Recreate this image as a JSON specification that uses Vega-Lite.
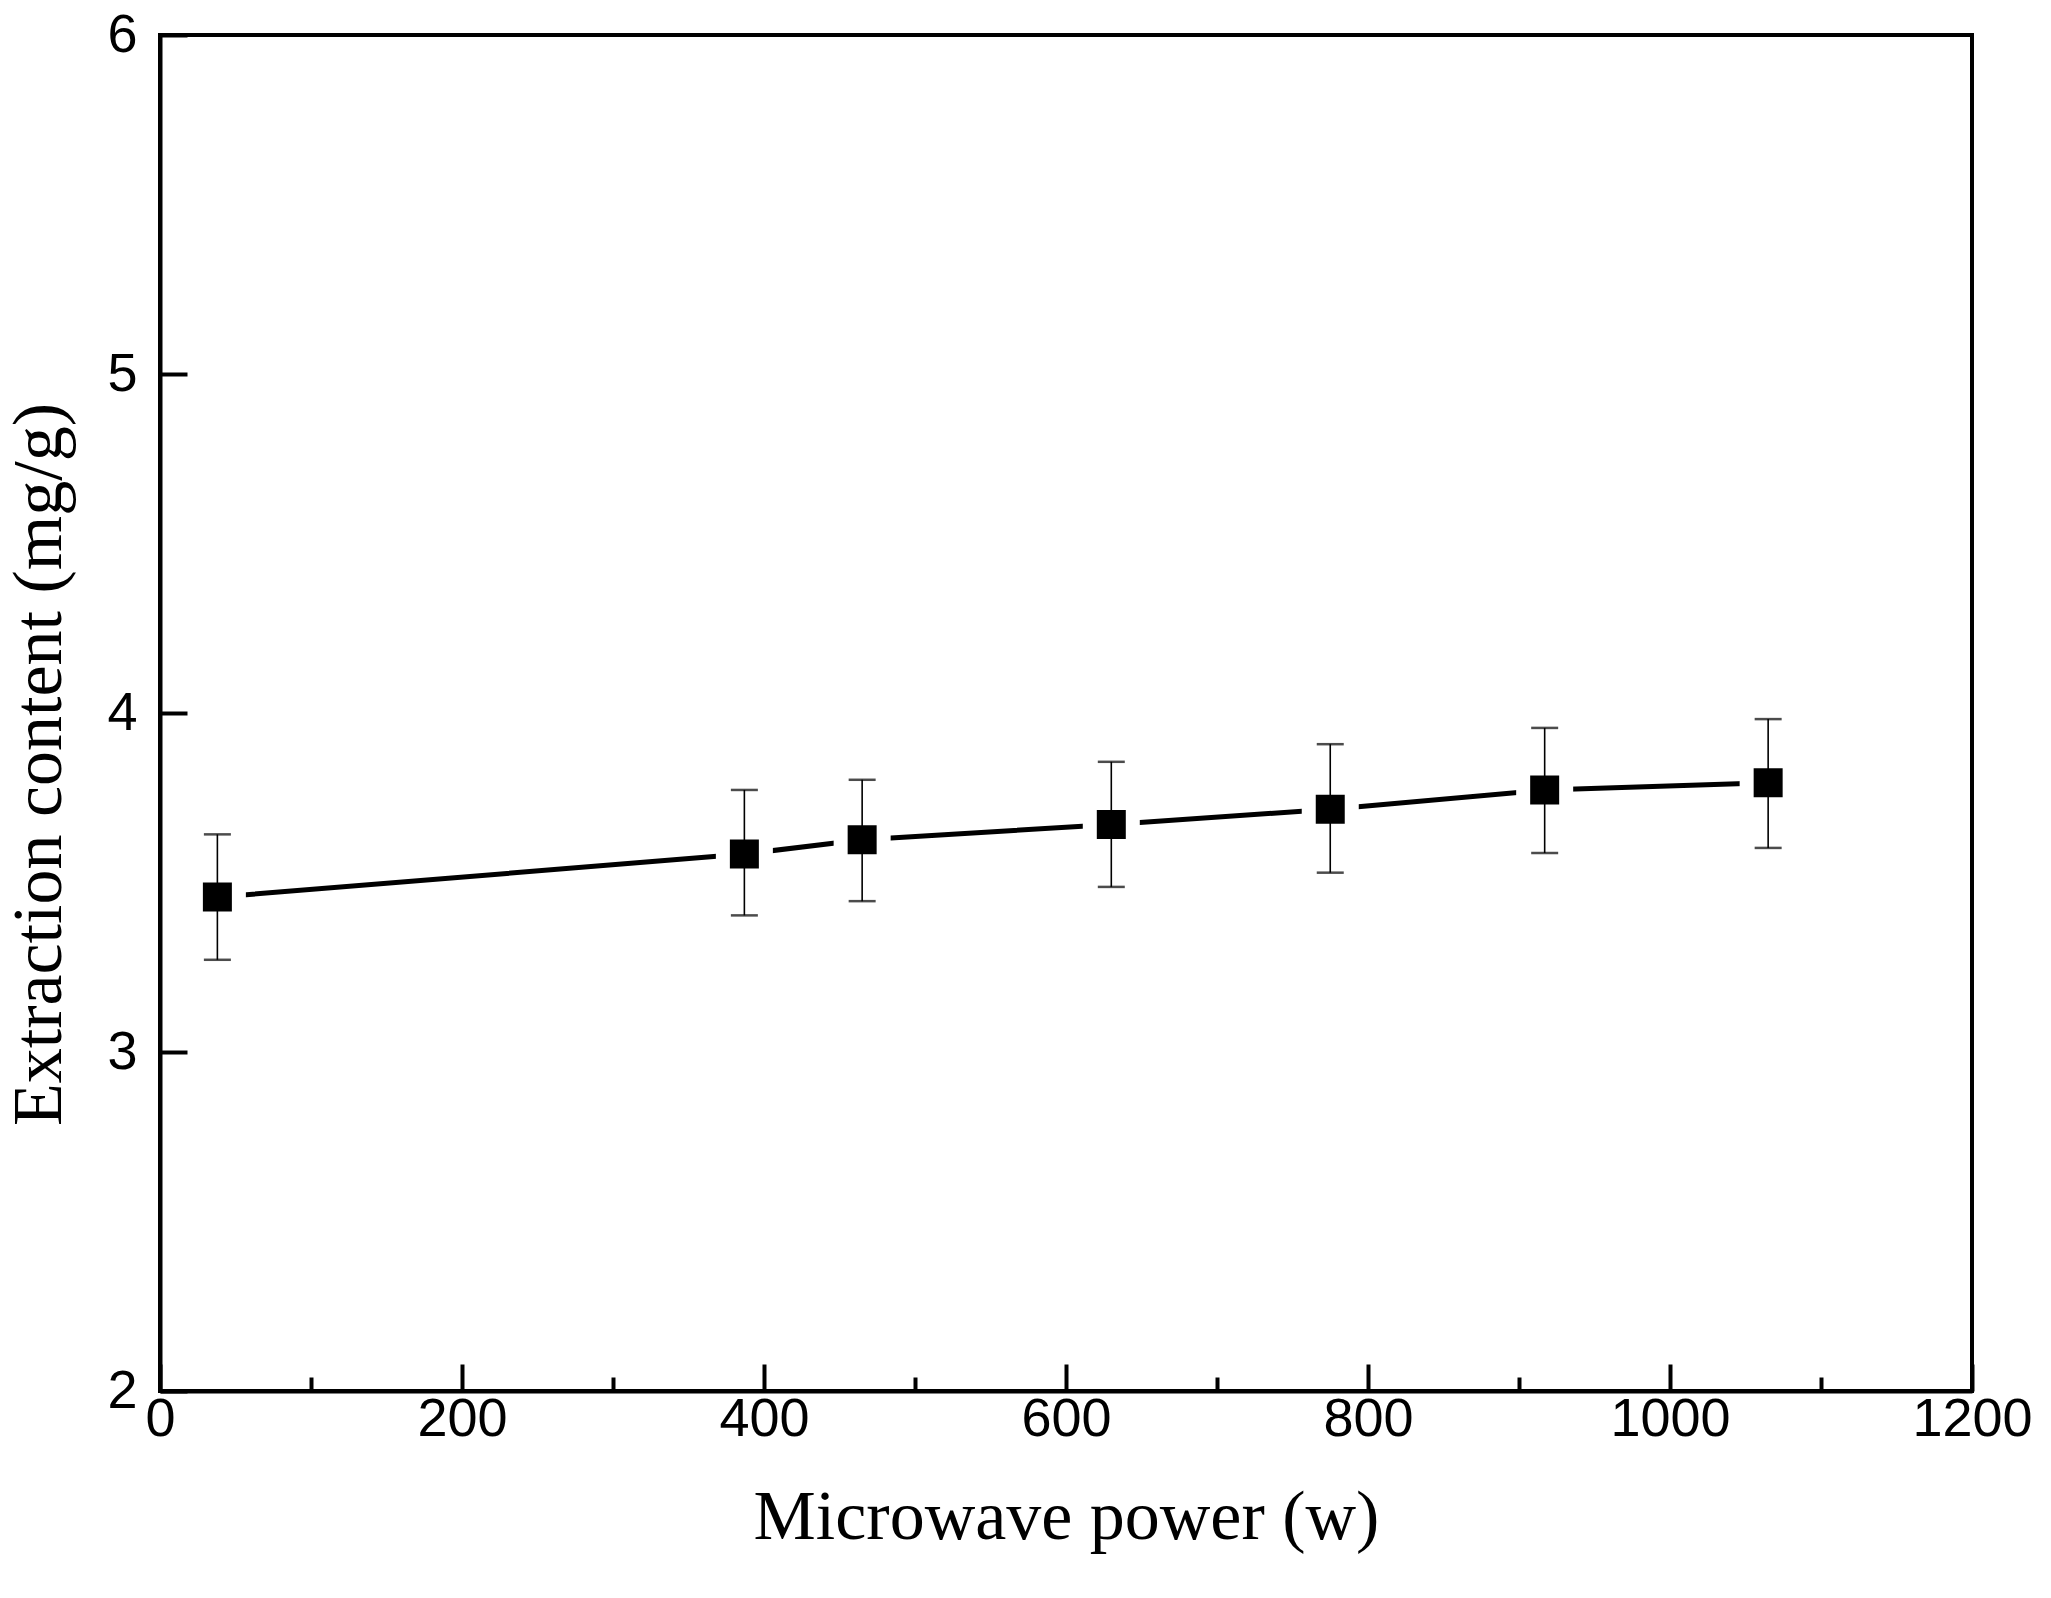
{
  "$schema": "https://vega.github.io/schema/vega-lite/v6.json",
  "width": 1812,
  "height": 1356,
  "autosize": {"type": "none"},
  "padding": {"left": 160, "top": 35, "right": 79, "bottom": 207},
  "background": "white",
  "data": {
    "values": [
      {"power": 38, "content": 3.457, "lo": 3.272, "hi": 3.642},
      {"power": 387, "content": 3.584, "lo": 3.403, "hi": 3.773},
      {"power": 465, "content": 3.626, "lo": 3.445, "hi": 3.803},
      {"power": 630, "content": 3.671, "lo": 3.487, "hi": 3.856},
      {"power": 775, "content": 3.716, "lo": 3.529, "hi": 3.908},
      {"power": 917, "content": 3.773, "lo": 3.587, "hi": 3.956},
      {"power": 1065, "content": 3.794, "lo": 3.602, "hi": 3.982}
    ]
  },
  "encoding": {
    "x": {
      "field": "power",
      "type": "quantitative",
      "title": "Microwave power (w)",
      "scale": {"domain": [0, 1200], "nice": false, "zero": false},
      "axis": {
        "values": [0, 100, 200, 300, 400, 500, 600, 700, 800, 900, 1000, 1100, 1200],
        "format": "d",
        "labelExpr": "datum.value % 200 === 0 ? datum.label : ''",
        "tickSize": {"condition": {"test": "datum.value % 200 === 0", "value": -27}, "value": -14},
        "labelPadding": 28,
        "titleY": 147,
        "titleBaseline": "alphabetic"
      }
    },
    "y": {
      "field": "content",
      "type": "quantitative",
      "title": "Extraction content (mg/g)",
      "scale": {"domain": [2, 6], "nice": false, "zero": false},
      "axis": {
        "values": [2, 2.5, 3, 3.5, 4, 4.5, 5, 5.5, 6],
        "format": "d",
        "labelExpr": "datum.value % 1 === 0 ? datum.label : ''",
        "tickSize": {"condition": {"test": "datum.value % 1 === 0", "value": -27}, "value": -14},
        "labelPadding": 50,
        "titleX": -100,
        "titleY": 729,
        "titleBaseline": "alphabetic",
        "titleAngle": -90
      }
    }
  },
  "layer": [
    {
      "mark": {"type": "line", "color": "black", "strokeWidth": 5}
    },
    {
      "mark": {"type": "point", "shape": "square", "filled": true, "fill": "black", "size": 1849, "stroke": "white", "strokeWidth": 14, "opacity": 1}
    },
    {
      "mark": {"type": "errorbar", "color": "black", "thickness": 1.6, "ticks": {"size": 27, "thickness": 2.5, "color": "black"}},
      "encoding": {
        "y": {"field": "lo", "type": "quantitative"},
        "y2": {"field": "hi"}
      }
    }
  ],
  "config": {
    "view": {"stroke": "black", "strokeWidth": 4},
    "axis": {
      "grid": false,
      "domainColor": "black",
      "domainWidth": 4,
      "tickColor": "black",
      "tickWidth": 4,
      "labelFont": "Liberation Sans",
      "labelFontSize": 54,
      "labelColor": "black",
      "labelFlush": false,
      "labelOverlap": false,
      "titleFont": "Liberation Serif",
      "titleFontSize": 70,
      "titleFontWeight": "normal",
      "titleColor": "black"
    }
  }
}
